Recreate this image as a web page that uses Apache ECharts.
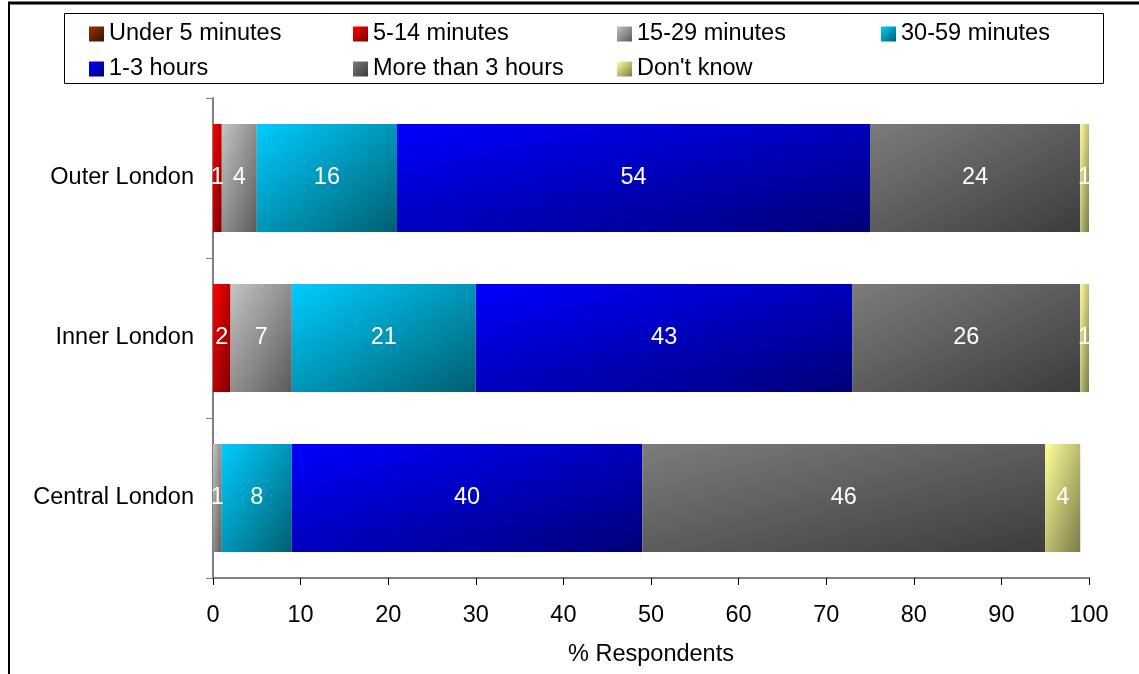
<!DOCTYPE html>
<html>
<head>
<meta charset="utf-8">
<script src="https://cdn.jsdelivr.net/npm/echarts@6/dist/echarts.min.js"></script>
<style>
html,body{margin:0;padding:0;background:#fff;}
#chart{width:1139px;height:674px;}
</style>
</head>
<body>
<div id="chart"></div>
<script>
// Data
const categories = ['Central London', 'Inner London', 'Outer London'];
const seriesNames = ['Under 5 minutes', '5-14 minutes', '15-29 minutes', '30-59 minutes', '1-3 hours', 'More than 3 hours', "Don't know"];
const under5 = [0, 0, 0];
const min5to14 = [0, 2, 1];
const min15to29 = [1, 7, 4];
const min30to59 = [8, 21, 16];
const hours1to3 = [40, 43, 54];
const moreThan3 = [46, 26, 24];
const dontKnow = [4, 1, 1];
const xTicks = [0, 10, 20, 30, 40, 50, 60, 70, 80, 90, 100];

const seriesValues = [under5, min5to14, min15to29, min30to59, hours1to3, moreThan3, dontKnow];
const gradStops = [
  ['#993300', '#3a1200'],
  ['#ff0000', '#7a0000'],
  ['#c4c4c4', '#5a5a5a'],
  ['#00ccff', '#005f70'],
  ['#0000ff', '#000078'],
  ['#7c7c7c', '#3c3c3c'],
  ['#ffff99', '#7a7a48']
];
const BAR_H = 108;
const FONT = 'Liberation Sans, Arial, sans-serif';
const FS = 23.5;

// Excel-like "diagonal down" gradient: isolines parallel to the box's anti-diagonal
function gradFor(i, W, H) {
  let x2 = 1, y2 = 1;
  if (W > 0) {
    const d = H * H + W * W;
    x2 = 2 * H * H / d;
    y2 = 2 * W * W / d;
  }
  return new echarts.graphic.LinearGradient(0, 0, x2, y2, [
    { offset: 0, color: gradStops[i][0] },
    { offset: 1, color: gradStops[i][1] }
  ]);
}
function legendGrad(i) {
  return new echarts.graphic.LinearGradient(0, 0, 1, 1, [
    { offset: 0, color: gradStops[i][0] },
    { offset: 1, color: gradStops[i][1] }
  ]);
}

function buildSeries(pxPerUnit) {
  return seriesNames.map((name, i) => ({
    name: name,
    type: 'bar',
    stack: 'total',
    barWidth: BAR_H,
    data: seriesValues[i].map(v => ({
      value: v,
      itemStyle: { color: gradFor(i, v * pxPerUnit, BAR_H) }
    })),
    itemStyle: { color: legendGrad(i) },
    label: {
      show: true,
      position: 'inside',
      color: '#ffffff',
      fontFamily: FONT,
      fontSize: FS,
      padding: [5, 0, 0, 0],
      formatter: p => (p.value > 0 ? String(p.value) : '')
    },
    emphasis: { disabled: true }
  }));
}

// legend positions (one legend per item)
const legendPos = [
  [89, 22], [353, 22], [617, 22], [881, 22],
  [89, 57], [353, 57], [617, 57]
];
const legends = seriesNames.map((name, i) => ({
  data: [name],
  left: legendPos[i][0],
  top: legendPos[i][1],
  itemWidth: 15,
  itemHeight: 15,
  itemGap: 0,
  padding: 0,
  selectedMode: false,
  textStyle: { fontFamily: FONT, fontSize: FS, color: '#000' },
  icon: 'rect'
}));

const chart = echarts.init(document.getElementById('chart'));
const option = {
  animation: false,
  backgroundColor: '#fff',
  legend: legends,
  grid: { left: 213, right: 50, top: 98, bottom: 96, containLabel: false },
  xAxis: {
    type: 'value',
    min: 0,
    max: 100,
    interval: 10,
    name: '% Respondents',
    nameLocation: 'middle',
    nameGap: 65,
    nameTextStyle: { fontFamily: FONT, fontSize: FS, color: '#000' },
    axisLine: { show: true, lineStyle: { color: '#808080', width: 2 } },
    axisTick: { show: true, length: 7, lineStyle: { color: '#000', width: 1 } },
    axisLabel: { fontFamily: FONT, fontSize: FS, color: '#000', margin: 26, formatter: v => (xTicks.includes(v) ? String(v) : '') },
    splitLine: { show: false }
  },
  yAxis: {
    type: 'category',
    data: categories,
    axisLine: { show: true, lineStyle: { color: '#808080', width: 2 } },
    axisTick: { show: true, length: 7, lineStyle: { color: '#808080', width: 1 } },
    axisLabel: { fontFamily: FONT, fontSize: FS, color: '#000', margin: 19, padding: [5, 0, 0, 0] },
    splitLine: { show: false }
  },
  graphic: [
    { type: 'rect', shape: { x: 64.5, y: 13.5, width: 1039, height: 70 }, style: { fill: 'none', stroke: '#000', lineWidth: 1 }, z: -1 },
    { type: 'line', shape: { x1: 8, y1: 3, x2: 1139, y2: 3 }, style: { stroke: '#000', lineWidth: 3 } },
    { type: 'line', shape: { x1: 9, y1: 2, x2: 9, y2: 674 }, style: { stroke: '#000', lineWidth: 2 } }
  ],
  series: buildSeries(8.76)
};
chart.setOption(option);
const px = chart.convertToPixel({ xAxisIndex: 0 }, 1) - chart.convertToPixel({ xAxisIndex: 0 }, 0);
chart.setOption({ series: buildSeries(px) });
</script>
</body>
</html>
